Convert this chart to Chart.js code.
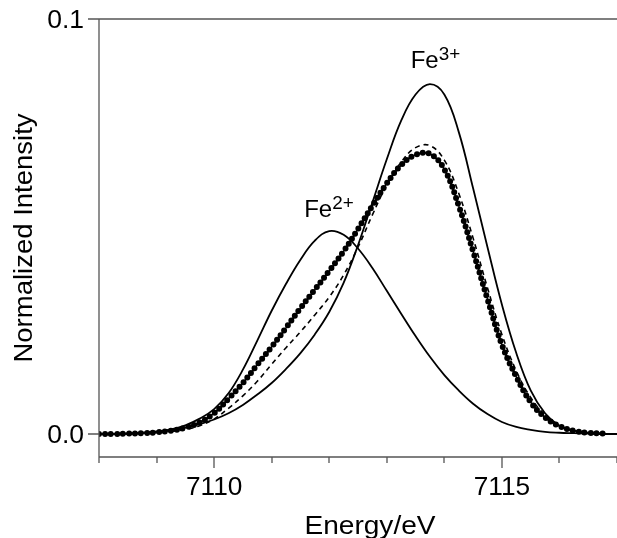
<!DOCTYPE html>
<html lang="en">
<head>
    <meta charset="UTF-8">
    <title>Fe K-edge pre-edge fit</title>
    <script src="https://cdn.jsdelivr.net/npm/chart.js"></script>
    <style>
        body { margin: 0; background: #fff; }
    </style>
</head>
<body>
    <canvas id="edgeChart" width="617" height="538"></canvas>

    <script>
        // energy grid (eV) shared by all curves
        const energy = [7108, 7108.25, 7108.5, 7108.75, 7109, 7109.25, 7109.5, 7109.75,
            7110, 7110.25, 7110.5, 7110.75, 7111, 7111.25, 7111.5, 7111.75,
            7112, 7112.25, 7112.5, 7112.75, 7113, 7113.25, 7113.5, 7113.75,
            7114, 7114.25, 7114.5, 7114.75, 7115, 7115.25, 7115.5, 7115.75,
            7116, 7116.25, 7116.5, 7116.75, 7117];

        // Fe2+ reference component
        const fe2Values = [0, 0, 0.0001, 0.0002, 0.0005, 0.0011, 0.0021, 0.0037,
            0.0060, 0.0098, 0.0155, 0.0225, 0.0297, 0.0362, 0.0420, 0.0466,
            0.0489, 0.0480, 0.0447, 0.0400, 0.0345, 0.0290, 0.0236, 0.0186,
            0.0142, 0.0105, 0.0073, 0.0048, 0.0029, 0.0017, 0.0010, 0.0005,
            0.0003, 0.0002, 0.0001, 0, 0];

        // Fe3+ reference component
        const fe3Values = [0, 0, 0.0001, 0.0003, 0.0006, 0.0010, 0.0016, 0.0024,
            0.0035, 0.0050, 0.0070, 0.0095, 0.0123, 0.0157, 0.0195, 0.0240,
            0.0294, 0.0364, 0.0455, 0.0558, 0.0662, 0.0755, 0.0818, 0.0843,
            0.0818, 0.0728, 0.0592, 0.0450, 0.0312, 0.0195, 0.0105, 0.0050,
            0.0020, 0.0008, 0.0003, 0.0001, 0];

        // measured spectrum (dots)
        const dataValues = [0, 0, 0.0001, 0.0002, 0.0004, 0.0008, 0.0015, 0.0028,
            0.0050, 0.0085, 0.0123, 0.0167, 0.0210, 0.0256, 0.0303, 0.0348,
            0.0393, 0.0440, 0.0494, 0.0550, 0.0604, 0.0648, 0.0673, 0.0675,
            0.0638, 0.0550, 0.0440, 0.0325, 0.0215, 0.0138, 0.0077, 0.0040,
            0.0019, 0.0008, 0.0003, 0.0001, null];

        // linear combination fit (dashed)
        const fitValues = [0, 0, 0.0001, 0.0002, 0.0003, 0.0006, 0.0011, 0.0020,
            0.0036, 0.0062, 0.0092, 0.0127, 0.0168, 0.0208, 0.0246, 0.0287,
            0.0330, 0.0383, 0.0450, 0.0528, 0.0600, 0.0655, 0.0690, 0.0695,
            0.0660, 0.0580, 0.0472, 0.0352, 0.0240, 0.0152, 0.0088, 0.0046,
            0.0021, 0.0009, 0.0003, 0.0001, 0];

        // axis ticks
        const xTicks = [7108, 7109, 7110, 7111, 7112, 7113, 7114, 7115, 7116, 7117];
        const xLabelTicks = [7110, 7115];
        const yLabelTicks = [0.0, 0.1];

        const toPoints = (vals) => energy.map((e, i) => ({ x: e, y: vals[i] }));

        const FONT = '"Liberation Sans", Arial, sans-serif';

        // draw text with a bit of horizontal stretch
        function stretchText(ctx, str, x, y, size, align, baseline, sx, angle) {
            ctx.save();
            ctx.translate(x, y);
            if (angle) ctx.rotate(angle);
            ctx.scale(sx, 1);
            ctx.font = size + 'px ' + FONT;
            ctx.textAlign = align;
            ctx.textBaseline = baseline;
            ctx.fillStyle = '#000';
            ctx.fillText(str, 0, 0);
            ctx.restore();
        }

        function ionLabel(ctx, base, sup, x, y) {
            stretchText(ctx, base, x, y, 24, 'left', 'alphabetic', 1.0);
            ctx.font = '24px ' + FONT;
            const w = ctx.measureText(base).width;
            stretchText(ctx, sup, x + w, y - 8, 18, 'left', 'alphabetic', 1.05);
        }

        const axisDecor = {
            id: 'axisDecor',
            afterDraw(chart) {
                const { ctx, chartArea: a, scales: { x, y } } = chart;
                ctx.save();
                ctx.strokeStyle = '#555';
                ctx.lineWidth = 1.3;
                ctx.beginPath();
                // axis lines
                ctx.moveTo(a.left, a.top);
                ctx.lineTo(a.left, a.bottom);
                ctx.lineTo(a.right, a.bottom);
                // top line at 0.1
                const yTop = y.getPixelForValue(0.1);
                ctx.moveTo(a.left - 11, yTop);
                ctx.lineTo(a.right, yTop);
                // y ticks
                const yZero = y.getPixelForValue(0);
                ctx.moveTo(a.left - 11, yZero);
                ctx.lineTo(a.left, yZero);
                // x ticks
                xTicks.forEach(v => {
                    const px = Math.round(x.getPixelForValue(v));
                    const len = xLabelTicks.includes(v) ? 11 : 6;
                    ctx.moveTo(px, a.bottom);
                    ctx.lineTo(px, a.bottom + len);
                });
                ctx.stroke();
                ctx.restore();

                // tick labels
                yLabelTicks.forEach(v => {
                    stretchText(ctx, v.toFixed(1), a.left - 15, y.getPixelForValue(v) + 2, 25, 'right', 'middle', 1.06);
                });
                xLabelTicks.forEach(v => {
                    stretchText(ctx, String(v), x.getPixelForValue(v), a.bottom + 38, 25, 'center', 'alphabetic', 1.05);
                });

                // axis titles
                stretchText(ctx, 'Energy/eV', (a.left + a.right) / 2 + 12, a.bottom + 77, 26, 'center', 'alphabetic', 1.08);
                stretchText(ctx, 'Normalized Intensity', 32, (a.top + a.bottom) / 2, 25, 'center', 'alphabetic', 1.1, -Math.PI / 2);

                // component labels
                ionLabel(ctx, 'Fe', '3+', x.getPixelForValue(7113.415), y.getPixelForValue(0.0882));
                ionLabel(ctx, 'Fe', '2+', x.getPixelForValue(7111.564), y.getPixelForValue(0.0523));
            }
        };

        const ctx = document.getElementById('edgeChart').getContext('2d');
        new Chart(ctx, {
            type: 'line',
            data: {
                datasets: [
                    {
                        label: 'data (points)',
                        data: toPoints(dataValues),
                        borderColor: '#000',
                        borderWidth: 6,
                        borderDash: [0, 6],
                        borderCapStyle: 'round',
                        pointRadius: 0,
                        tension: 0.4
                    },
                    {
                        label: 'data',
                        data: toPoints(dataValues),
                        borderColor: '#000',
                        borderWidth: 1.3,
                        pointRadius: 0,
                        tension: 0.4
                    },
                    {
                        label: 'fit',
                        data: toPoints(fitValues),
                        borderColor: '#000',
                        borderWidth: 1.6,
                        borderDash: [5, 4],
                        pointRadius: 0,
                        tension: 0.4
                    },
                    {
                        label: 'Fe3+',
                        data: toPoints(fe3Values),
                        borderColor: '#000',
                        borderWidth: 1.8,
                        pointRadius: 0,
                        tension: 0.4
                    },
                    {
                        label: 'Fe2+',
                        data: toPoints(fe2Values),
                        borderColor: '#000',
                        borderWidth: 1.8,
                        pointRadius: 0,
                        tension: 0.4
                    }
                ]
            },
            options: {
                responsive: false,
                animation: false,
                layout: { padding: { left: 99, top: 19, right: 0, bottom: 81 } },
                plugins: {
                    legend: { display: false },
                    tooltip: { enabled: false }
                },
                scales: {
                    x: { type: 'linear', display: false, min: 7108, max: 7117 },
                    y: { display: false, min: -0.00554, max: 0.1 }
                }
            },
            plugins: [axisDecor]
        });
    </script>
</body>
</html>
